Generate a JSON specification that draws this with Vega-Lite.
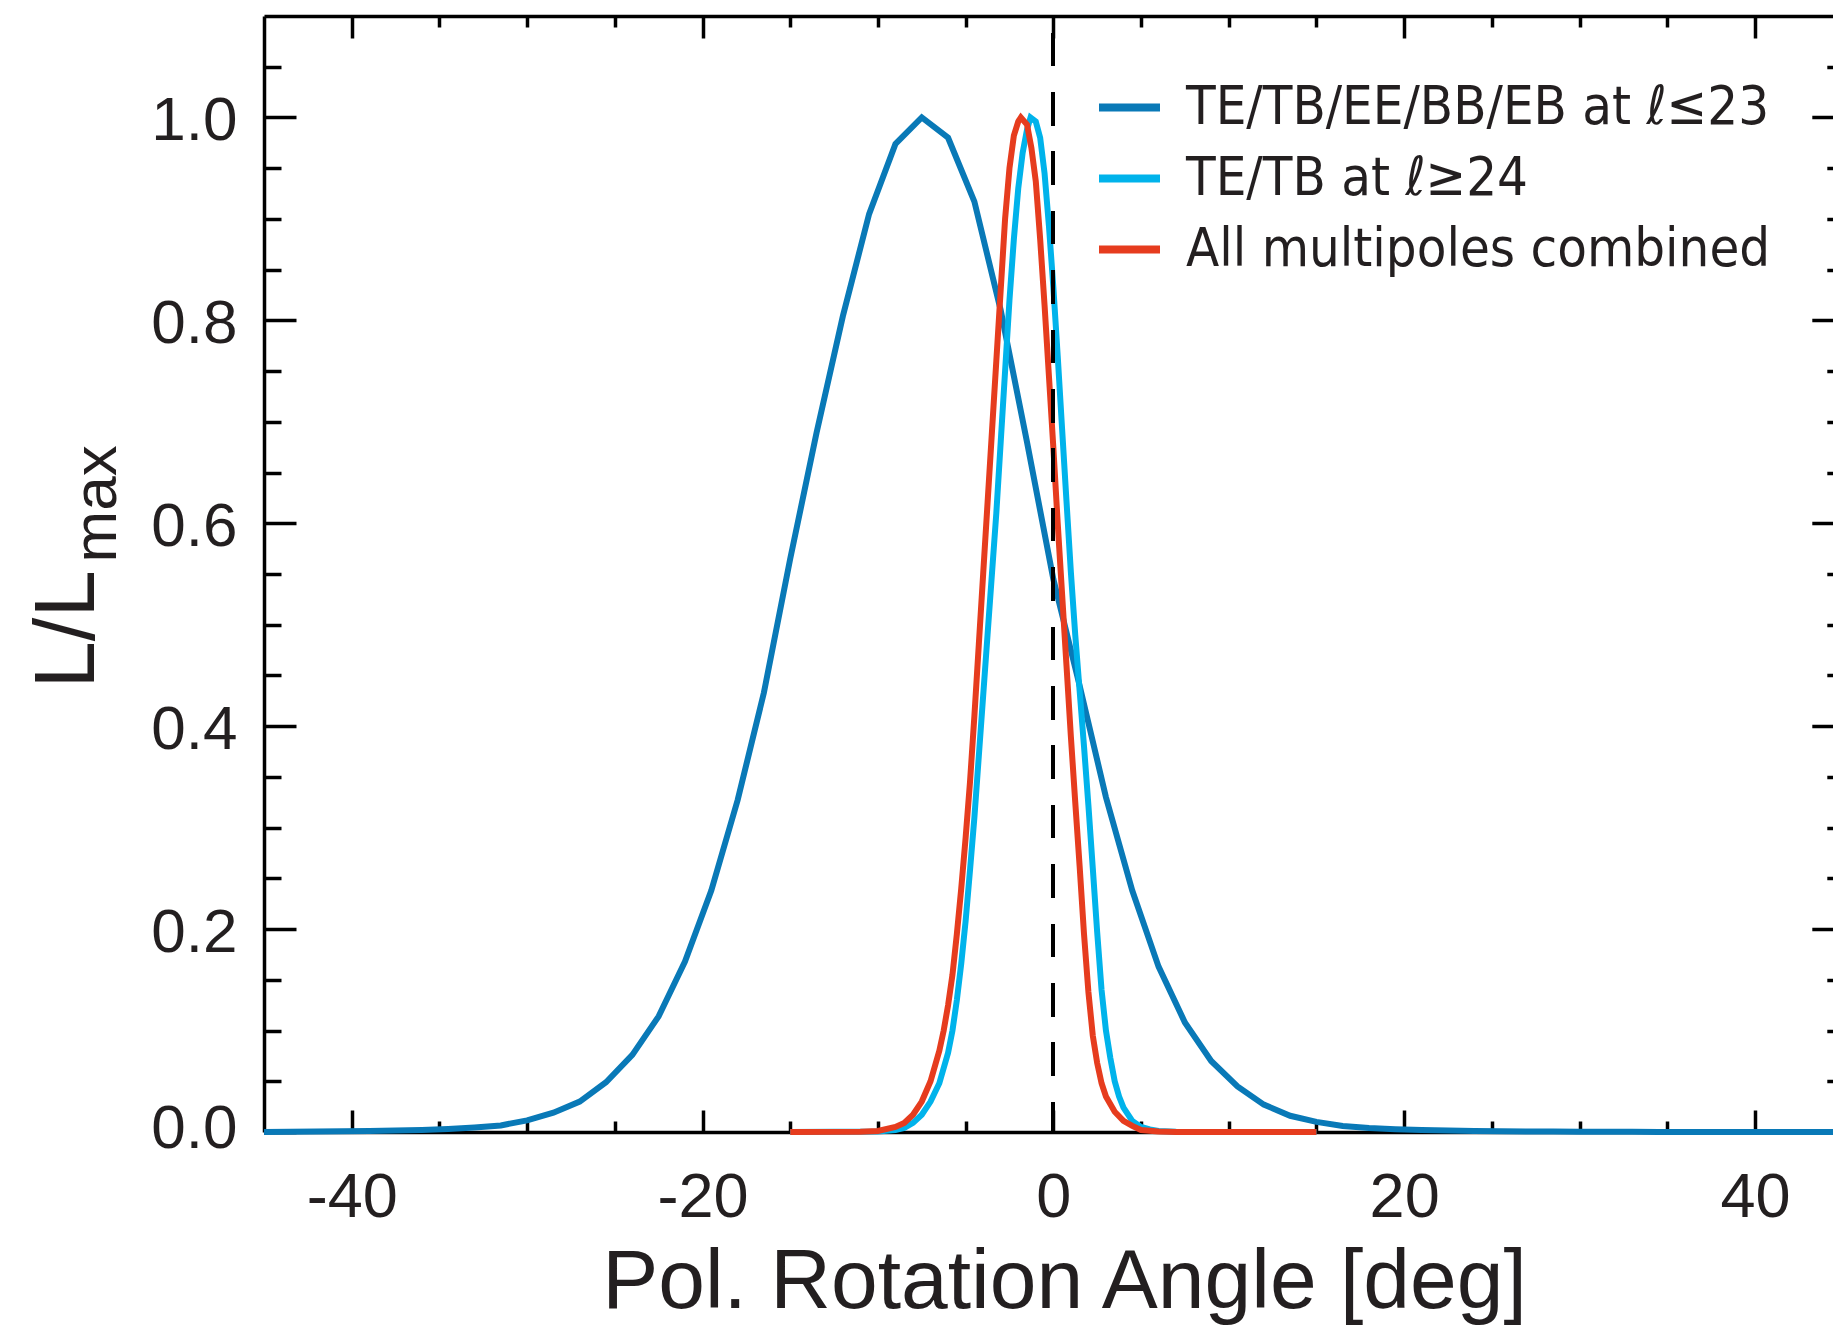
{
  "$schema": "https://vega.github.io/schema/vega-lite/v6.json",
  "width": 1569,
  "height": 1116,
  "autosize": {"type": "none"},
  "padding": {"left": 264, "top": 16, "right": 0, "bottom": 193},
  "background": "white",
  "config": {"view": {"stroke": null}},
  "data": {"values": [
    {"series": "TE/TB/EE/BB/EB at ℓ≤23", "angle": -45, "value": 0.0001},
    {"series": "TE/TB/EE/BB/EB at ℓ≤23", "angle": -43.5, "value": 0.0002},
    {"series": "TE/TB/EE/BB/EB at ℓ≤23", "angle": -42, "value": 0.0004},
    {"series": "TE/TB/EE/BB/EB at ℓ≤23", "angle": -40.5, "value": 0.0007},
    {"series": "TE/TB/EE/BB/EB at ℓ≤23", "angle": -39, "value": 0.001},
    {"series": "TE/TB/EE/BB/EB at ℓ≤23", "angle": -37.5, "value": 0.0015},
    {"series": "TE/TB/EE/BB/EB at ℓ≤23", "angle": -36, "value": 0.002},
    {"series": "TE/TB/EE/BB/EB at ℓ≤23", "angle": -34.5, "value": 0.003},
    {"series": "TE/TB/EE/BB/EB at ℓ≤23", "angle": -33, "value": 0.0045},
    {"series": "TE/TB/EE/BB/EB at ℓ≤23", "angle": -31.5, "value": 0.0065},
    {"series": "TE/TB/EE/BB/EB at ℓ≤23", "angle": -30, "value": 0.0115},
    {"series": "TE/TB/EE/BB/EB at ℓ≤23", "angle": -28.5, "value": 0.019},
    {"series": "TE/TB/EE/BB/EB at ℓ≤23", "angle": -27, "value": 0.030},
    {"series": "TE/TB/EE/BB/EB at ℓ≤23", "angle": -25.5, "value": 0.049},
    {"series": "TE/TB/EE/BB/EB at ℓ≤23", "angle": -24, "value": 0.076},
    {"series": "TE/TB/EE/BB/EB at ℓ≤23", "angle": -22.5, "value": 0.114},
    {"series": "TE/TB/EE/BB/EB at ℓ≤23", "angle": -21, "value": 0.168},
    {"series": "TE/TB/EE/BB/EB at ℓ≤23", "angle": -19.5, "value": 0.238},
    {"series": "TE/TB/EE/BB/EB at ℓ≤23", "angle": -18, "value": 0.327},
    {"series": "TE/TB/EE/BB/EB at ℓ≤23", "angle": -16.5, "value": 0.433},
    {"series": "TE/TB/EE/BB/EB at ℓ≤23", "angle": -15, "value": 0.565},
    {"series": "TE/TB/EE/BB/EB at ℓ≤23", "angle": -13.5, "value": 0.689},
    {"series": "TE/TB/EE/BB/EB at ℓ≤23", "angle": -12, "value": 0.804},
    {"series": "TE/TB/EE/BB/EB at ℓ≤23", "angle": -10.5, "value": 0.905},
    {"series": "TE/TB/EE/BB/EB at ℓ≤23", "angle": -9, "value": 0.974},
    {"series": "TE/TB/EE/BB/EB at ℓ≤23", "angle": -7.5, "value": 1.0},
    {"series": "TE/TB/EE/BB/EB at ℓ≤23", "angle": -6, "value": 0.98},
    {"series": "TE/TB/EE/BB/EB at ℓ≤23", "angle": -4.5, "value": 0.917},
    {"series": "TE/TB/EE/BB/EB at ℓ≤23", "angle": -3, "value": 0.81},
    {"series": "TE/TB/EE/BB/EB at ℓ≤23", "angle": -1.5, "value": 0.68},
    {"series": "TE/TB/EE/BB/EB at ℓ≤23", "angle": 0, "value": 0.545},
    {"series": "TE/TB/EE/BB/EB at ℓ≤23", "angle": 1.5, "value": 0.44},
    {"series": "TE/TB/EE/BB/EB at ℓ≤23", "angle": 3, "value": 0.33},
    {"series": "TE/TB/EE/BB/EB at ℓ≤23", "angle": 4.5, "value": 0.238},
    {"series": "TE/TB/EE/BB/EB at ℓ≤23", "angle": 6, "value": 0.163},
    {"series": "TE/TB/EE/BB/EB at ℓ≤23", "angle": 7.5, "value": 0.108},
    {"series": "TE/TB/EE/BB/EB at ℓ≤23", "angle": 9, "value": 0.07},
    {"series": "TE/TB/EE/BB/EB at ℓ≤23", "angle": 10.5, "value": 0.045},
    {"series": "TE/TB/EE/BB/EB at ℓ≤23", "angle": 12, "value": 0.027},
    {"series": "TE/TB/EE/BB/EB at ℓ≤23", "angle": 13.5, "value": 0.016},
    {"series": "TE/TB/EE/BB/EB at ℓ≤23", "angle": 15, "value": 0.01},
    {"series": "TE/TB/EE/BB/EB at ℓ≤23", "angle": 16.5, "value": 0.006},
    {"series": "TE/TB/EE/BB/EB at ℓ≤23", "angle": 18, "value": 0.004},
    {"series": "TE/TB/EE/BB/EB at ℓ≤23", "angle": 19.5, "value": 0.0028},
    {"series": "TE/TB/EE/BB/EB at ℓ≤23", "angle": 21, "value": 0.002},
    {"series": "TE/TB/EE/BB/EB at ℓ≤23", "angle": 22.5, "value": 0.0014},
    {"series": "TE/TB/EE/BB/EB at ℓ≤23", "angle": 24, "value": 0.001},
    {"series": "TE/TB/EE/BB/EB at ℓ≤23", "angle": 25.5, "value": 0.0007},
    {"series": "TE/TB/EE/BB/EB at ℓ≤23", "angle": 27, "value": 0.0005},
    {"series": "TE/TB/EE/BB/EB at ℓ≤23", "angle": 28.5, "value": 0.0004},
    {"series": "TE/TB/EE/BB/EB at ℓ≤23", "angle": 30, "value": 0.0003},
    {"series": "TE/TB/EE/BB/EB at ℓ≤23", "angle": 31.5, "value": 0.0002},
    {"series": "TE/TB/EE/BB/EB at ℓ≤23", "angle": 33, "value": 0.00015},
    {"series": "TE/TB/EE/BB/EB at ℓ≤23", "angle": 34.5, "value": 0.0001},
    {"series": "TE/TB/EE/BB/EB at ℓ≤23", "angle": 36, "value": 0.0001},
    {"series": "TE/TB/EE/BB/EB at ℓ≤23", "angle": 37.5, "value": 0.00005},
    {"series": "TE/TB/EE/BB/EB at ℓ≤23", "angle": 39, "value": 0.00005},
    {"series": "TE/TB/EE/BB/EB at ℓ≤23", "angle": 40.5, "value": 0.00003},
    {"series": "TE/TB/EE/BB/EB at ℓ≤23", "angle": 42, "value": 0.00002},
    {"series": "TE/TB/EE/BB/EB at ℓ≤23", "angle": 43.5, "value": 0.00001},
    {"series": "TE/TB/EE/BB/EB at ℓ≤23", "angle": 45, "value": 0},

    {"series": "TE/TB at ℓ≥24", "angle": -15, "value": 0},
    {"series": "TE/TB at ℓ≥24", "angle": -10, "value": 0.0005},
    {"series": "TE/TB at ℓ≥24", "angle": -9, "value": 0.002},
    {"series": "TE/TB at ℓ≥24", "angle": -8.5, "value": 0.004},
    {"series": "TE/TB at ℓ≥24", "angle": -8, "value": 0.009},
    {"series": "TE/TB at ℓ≥24", "angle": -7.5, "value": 0.017},
    {"series": "TE/TB at ℓ≥24", "angle": -7, "value": 0.03},
    {"series": "TE/TB at ℓ≥24", "angle": -6.5, "value": 0.048},
    {"series": "TE/TB at ℓ≥24", "angle": -6, "value": 0.078},
    {"series": "TE/TB at ℓ≥24", "angle": -5.75, "value": 0.1},
    {"series": "TE/TB at ℓ≥24", "angle": -5.5, "value": 0.13},
    {"series": "TE/TB at ℓ≥24", "angle": -5.25, "value": 0.166},
    {"series": "TE/TB at ℓ≥24", "angle": -5, "value": 0.208},
    {"series": "TE/TB at ℓ≥24", "angle": -4.75, "value": 0.258},
    {"series": "TE/TB at ℓ≥24", "angle": -4.5, "value": 0.31},
    {"series": "TE/TB at ℓ≥24", "angle": -4.25, "value": 0.37},
    {"series": "TE/TB at ℓ≥24", "angle": -4, "value": 0.43},
    {"series": "TE/TB at ℓ≥24", "angle": -3.75, "value": 0.49},
    {"series": "TE/TB at ℓ≥24", "angle": -3.5, "value": 0.55},
    {"series": "TE/TB at ℓ≥24", "angle": -3.25, "value": 0.61},
    {"series": "TE/TB at ℓ≥24", "angle": -3, "value": 0.68},
    {"series": "TE/TB at ℓ≥24", "angle": -2.75, "value": 0.75},
    {"series": "TE/TB at ℓ≥24", "angle": -2.5, "value": 0.82},
    {"series": "TE/TB at ℓ≥24", "angle": -2.25, "value": 0.88},
    {"series": "TE/TB at ℓ≥24", "angle": -2, "value": 0.93},
    {"series": "TE/TB at ℓ≥24", "angle": -1.75, "value": 0.965},
    {"series": "TE/TB at ℓ≥24", "angle": -1.5, "value": 0.988},
    {"series": "TE/TB at ℓ≥24", "angle": -1.3, "value": 1.0},
    {"series": "TE/TB at ℓ≥24", "angle": -1, "value": 0.996},
    {"series": "TE/TB at ℓ≥24", "angle": -0.75, "value": 0.98},
    {"series": "TE/TB at ℓ≥24", "angle": -0.5, "value": 0.945},
    {"series": "TE/TB at ℓ≥24", "angle": -0.25, "value": 0.893},
    {"series": "TE/TB at ℓ≥24", "angle": 0, "value": 0.833},
    {"series": "TE/TB at ℓ≥24", "angle": 0.25, "value": 0.765},
    {"series": "TE/TB at ℓ≥24", "angle": 0.5, "value": 0.693},
    {"series": "TE/TB at ℓ≥24", "angle": 0.75, "value": 0.622},
    {"series": "TE/TB at ℓ≥24", "angle": 1, "value": 0.552},
    {"series": "TE/TB at ℓ≥24", "angle": 1.25, "value": 0.49},
    {"series": "TE/TB at ℓ≥24", "angle": 1.5, "value": 0.435},
    {"series": "TE/TB at ℓ≥24", "angle": 1.75, "value": 0.38},
    {"series": "TE/TB at ℓ≥24", "angle": 2, "value": 0.322},
    {"series": "TE/TB at ℓ≥24", "angle": 2.25, "value": 0.26},
    {"series": "TE/TB at ℓ≥24", "angle": 2.5, "value": 0.197},
    {"series": "TE/TB at ℓ≥24", "angle": 2.75, "value": 0.14},
    {"series": "TE/TB at ℓ≥24", "angle": 3, "value": 0.1},
    {"series": "TE/TB at ℓ≥24", "angle": 3.25, "value": 0.073},
    {"series": "TE/TB at ℓ≥24", "angle": 3.5, "value": 0.05},
    {"series": "TE/TB at ℓ≥24", "angle": 3.75, "value": 0.035},
    {"series": "TE/TB at ℓ≥24", "angle": 4, "value": 0.024},
    {"series": "TE/TB at ℓ≥24", "angle": 4.5, "value": 0.011},
    {"series": "TE/TB at ℓ≥24", "angle": 5, "value": 0.005},
    {"series": "TE/TB at ℓ≥24", "angle": 5.5, "value": 0.0025},
    {"series": "TE/TB at ℓ≥24", "angle": 6, "value": 0.001},
    {"series": "TE/TB at ℓ≥24", "angle": 7, "value": 0.0003},
    {"series": "TE/TB at ℓ≥24", "angle": 8, "value": 0},
    {"series": "TE/TB at ℓ≥24", "angle": 15, "value": 0},

    {"series": "All multipoles combined", "angle": -15, "value": 0},
    {"series": "All multipoles combined", "angle": -11, "value": 0.0002},
    {"series": "All multipoles combined", "angle": -10, "value": 0.001},
    {"series": "All multipoles combined", "angle": -9, "value": 0.005},
    {"series": "All multipoles combined", "angle": -8.5, "value": 0.009},
    {"series": "All multipoles combined", "angle": -8, "value": 0.017},
    {"series": "All multipoles combined", "angle": -7.5, "value": 0.03},
    {"series": "All multipoles combined", "angle": -7, "value": 0.05},
    {"series": "All multipoles combined", "angle": -6.5, "value": 0.08},
    {"series": "All multipoles combined", "angle": -6.25, "value": 0.1},
    {"series": "All multipoles combined", "angle": -6, "value": 0.125},
    {"series": "All multipoles combined", "angle": -5.75, "value": 0.155},
    {"series": "All multipoles combined", "angle": -5.5, "value": 0.195},
    {"series": "All multipoles combined", "angle": -5.25, "value": 0.24},
    {"series": "All multipoles combined", "angle": -5, "value": 0.29},
    {"series": "All multipoles combined", "angle": -4.75, "value": 0.345},
    {"series": "All multipoles combined", "angle": -4.5, "value": 0.41},
    {"series": "All multipoles combined", "angle": -4.25, "value": 0.48},
    {"series": "All multipoles combined", "angle": -4, "value": 0.55},
    {"series": "All multipoles combined", "angle": -3.75, "value": 0.62},
    {"series": "All multipoles combined", "angle": -3.5, "value": 0.69},
    {"series": "All multipoles combined", "angle": -3.25, "value": 0.76},
    {"series": "All multipoles combined", "angle": -3, "value": 0.83},
    {"series": "All multipoles combined", "angle": -2.75, "value": 0.9},
    {"series": "All multipoles combined", "angle": -2.5, "value": 0.95},
    {"series": "All multipoles combined", "angle": -2.25, "value": 0.982},
    {"series": "All multipoles combined", "angle": -2, "value": 0.996},
    {"series": "All multipoles combined", "angle": -1.85, "value": 1.0},
    {"series": "All multipoles combined", "angle": -1.5, "value": 0.993},
    {"series": "All multipoles combined", "angle": -1.25, "value": 0.97},
    {"series": "All multipoles combined", "angle": -1, "value": 0.937},
    {"series": "All multipoles combined", "angle": -0.75, "value": 0.88},
    {"series": "All multipoles combined", "angle": -0.5, "value": 0.815},
    {"series": "All multipoles combined", "angle": -0.25, "value": 0.745},
    {"series": "All multipoles combined", "angle": 0, "value": 0.675},
    {"series": "All multipoles combined", "angle": 0.25, "value": 0.6},
    {"series": "All multipoles combined", "angle": 0.5, "value": 0.53},
    {"series": "All multipoles combined", "angle": 0.75, "value": 0.46},
    {"series": "All multipoles combined", "angle": 1, "value": 0.39},
    {"series": "All multipoles combined", "angle": 1.25, "value": 0.325},
    {"series": "All multipoles combined", "angle": 1.5, "value": 0.262},
    {"series": "All multipoles combined", "angle": 1.75, "value": 0.195},
    {"series": "All multipoles combined", "angle": 2, "value": 0.138},
    {"series": "All multipoles combined", "angle": 2.25, "value": 0.095},
    {"series": "All multipoles combined", "angle": 2.5, "value": 0.068},
    {"series": "All multipoles combined", "angle": 2.75, "value": 0.048},
    {"series": "All multipoles combined", "angle": 3, "value": 0.035},
    {"series": "All multipoles combined", "angle": 3.5, "value": 0.02},
    {"series": "All multipoles combined", "angle": 4, "value": 0.011},
    {"series": "All multipoles combined", "angle": 4.5, "value": 0.006},
    {"series": "All multipoles combined", "angle": 5, "value": 0.002},
    {"series": "All multipoles combined", "angle": 6, "value": 0.0005},
    {"series": "All multipoles combined", "angle": 7, "value": 0.0001},
    {"series": "All multipoles combined", "angle": 15, "value": 0}
  ]},
  "resolve": {"axis": {"x": "independent", "y": "independent"}},
  "layer": [
    {
      "mark": {"type": "line", "strokeWidth": 6, "interpolate": "linear"},
      "encoding": {
        "x": {
          "field": "angle", "type": "quantitative",
          "scale": {"domain": [-45, 44.45], "nice": false, "zero": false},
          "axis": {
            "orient": "bottom",
            "values": [-40,-35,-30,-25,-20,-15,-10,-5,0,5,10,15,20,25,30,35,40],
            "labelExpr": "datum.value % 20 == 0 ? '' + datum.value : ''",
            "tickSize": {"condition": {"test": "datum.value % 20 == 0", "value": -22}, "value": -11},
            "tickWidth": 3.5, "tickColor": "black",
            "domainColor": "black", "domainWidth": 3.5,
            "grid": false,
            "labelFont": "Liberation Sans", "labelFontSize": 63, "labelColor": "#231f20",
            "labelPadding": 56, "labelOverlap": false, "labelFlush": false,
            "title": "Pol. Rotation Angle [deg]",
            "titleFont": "Liberation Sans", "titleFontSize": 84, "titleFontWeight": "normal", "titleColor": "#231f20",
            "titleX": 800, "titleY": 175, "titleAlign": "center", "titleBaseline": "alphabetic"
          }
        },
        "y": {
          "field": "value", "type": "quantitative",
          "scale": {"domain": [0, 1.1], "nice": false},
          "axis": {
            "orient": "left",
            "values": [0,0.05,0.1,0.15,0.2,0.25,0.3,0.35,0.4,0.45,0.5,0.55,0.6,0.65,0.7,0.75,0.8,0.85,0.9,0.95,1,1.05],
            "labelExpr": "abs(round(datum.value*100) % 20) == 0 ? format(datum.value, '.1f') : ''",
            "tickSize": {"condition": {"test": "abs(round(datum.value*100) % 20) == 0", "value": -32}, "value": -17},
            "tickWidth": 3.5, "tickColor": "black",
            "domainColor": "black", "domainWidth": 3.5,
            "grid": false,
            "labelFont": "Liberation Sans", "labelFontSize": 62, "labelColor": "#231f20",
            "labelPadding": 59,
            "labelOffset": {"condition": {"test": "datum.value == 0", "value": -4}, "value": 3},
            "labelOverlap": false, "labelFlush": false,
            "title": "L/L",
            "titleFont": "Liberation Sans", "titleFontSize": 85, "titleFontWeight": "normal", "titleColor": "#231f20",
            "titleAngle": 270, "titleX": -171, "titleY": 672, "titleAlign": "left", "titleBaseline": "alphabetic"
          }
        },
        "color": {
          "field": "series", "type": "nominal",
          "scale": {
            "domain": ["TE/TB/EE/BB/EB at ℓ≤23", "TE/TB at ℓ≥24", "All multipoles combined"],
            "range": ["#0979b7", "#00b3eb", "#e63c1e"]
          },
          "legend": {
            "orient": "none", "legendX": 831, "legendY": 57,
            "title": null, "padding": 0,
            "symbolType": "stroke", "symbolSize": 3721, "symbolStrokeWidth": 8,
            "labelFont": "DejaVu Sans Condensed", "labelFontSize": 54, "labelColor": "#231f20",
            "labelOffset": 22, "labelLimit": 0, "rowPadding": 9
          }
        }
      }
    },
    {
      "mark": {"type": "rule", "color": "black", "strokeWidth": 3.2, "strokeDash": [33, 26.4], "strokeDashOffset": 42.5},
      "encoding": {
        "x": {
          "datum": 0, "type": "quantitative",
          "axis": {
            "orient": "top",
            "values": [-40,-35,-30,-25,-20,-15,-10,-5,0,5,10,15,20,25,30,35,40],
            "labels": false,
            "tickSize": {"condition": {"test": "datum.value % 20 == 0", "value": -22}, "value": -11},
            "tickWidth": 3.5, "tickColor": "black",
            "domainColor": "black", "domainWidth": 3.5,
            "grid": false,
            "title": "max",
            "titleFont": "Liberation Sans", "titleFontSize": 62, "titleFontWeight": "normal", "titleColor": "#231f20",
            "titleAngle": 270, "titleX": -149, "titleY": 546, "titleAlign": "left", "titleBaseline": "alphabetic"
          }
        },
        "y": {
          "datum": 1.1, "type": "quantitative",
          "axis": {
            "orient": "right", "offset": 10.8,
            "values": [0,0.05,0.1,0.15,0.2,0.25,0.3,0.35,0.4,0.45,0.5,0.55,0.6,0.65,0.7,0.75,0.8,0.85,0.9,0.95,1,1.05],
            "labels": false,
            "tickSize": {"condition": {"test": "abs(round(datum.value*100) % 20) == 0", "value": -32}, "value": -17},
            "tickWidth": 3.5, "tickColor": "black",
            "domainColor": "black", "domainWidth": 3.5,
            "grid": false,
            "title": null
          }
        },
        "y2": {"datum": 0}
      }
    }
  ]
}
